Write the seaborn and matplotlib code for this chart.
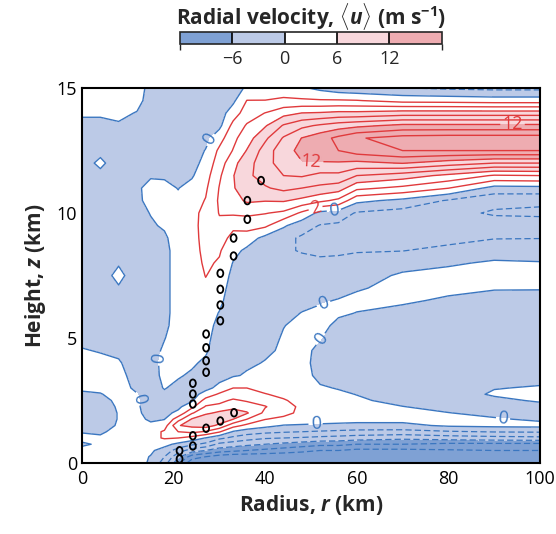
import numpy as np
import seaborn as sns
import matplotlib
matplotlib.use("Agg")
import matplotlib.pyplot as plt
from matplotlib.colors import ListedColormap, BoundaryNorm
from matplotlib.path import Path
from matplotlib.transforms import Affine2D
import matplotlib.colorbar as mcolorbar

sns.set_theme(style="ticks")
plt.rcParams['font.family'] = ['Open Sans', 'DejaVu Sans']
plt.rcParams['mathtext.fontset'] = 'custom'
plt.rcParams['mathtext.rm'] = 'Open Sans:bold'
plt.rcParams['mathtext.it'] = 'Open Sans:bold:italic'
plt.rcParams['mathtext.bf'] = 'Open Sans:bold'

# ---------------- data ----------------
radius_km = [0, 4, 8, 12, 15, 18, 21, 24, 27, 30, 33, 36, 40, 44, 48, 52, 56, 60, 70, 80, 90, 100]
height_km = [0, .25, .5, .75, 1, 1.25, 1.5, 1.75, 2, 2.25, 2.5, 2.75, 3,
             3.5, 4, 4.5, 5, 5.5, 6, 6.5, 7, 7.5, 8, 8.5, 9, 9.5, 10,
             10.5, 11, 11.5, 12, 12.5, 13, 13.5, 14, 14.5, 15]

# radial velocity profiles (m/s) at each radius, bottom to top
u_r000 = [0.3, 0.3, 0.2, -0.1, 0.2, -0.05, -0.3, -0.5, -0.5, -0.4, -0.3, -0.1, 0.1,
          0.3, 0.25, 0.05, -0.2, -0.4, -0.5, -0.6, -0.6, -0.6, -0.6, -0.6, -0.6, -0.6, -0.6,
          -0.6, -0.6, -0.5, -0.4, -0.4, -0.4, -0.2, 0.1, 0.4, 0.5]
u_r004 = [0.3, 0.2, 0.1, 0.1, 0.1, -0.1, -0.4, -0.5, -0.5, -0.4, -0.3, -0.05, 0.2,
          0.3, 0.2, -0.05, -0.3, -0.5, -0.6, -0.6, -0.6, -0.5, -0.6, -0.7, -0.7, -0.7, -0.7,
          -0.7, -0.6, -0.25, 0.2, -0.25, -0.4, -0.2, 0.1, 0.4, 0.5]
u_r008 = [0.5, 0.5, 0.5, 0.4, 0.3, 0.2, 0.1, 0.05, 0.05, 0.1, 0.2, 0.3, 0.4,
          0.3, 0.1, -0.2, -0.4, -0.5, -0.5, -0.4, -0.1, 0.3, -0.1, -0.4, -0.6, -0.7, -0.7,
          -0.7, -0.7, -0.6, -0.5, -0.4, -0.3, -0.1, 0.2, 0.4, 0.5]
u_r012 = [0.5, 0.6, 0.7, 0.7, 0.8, 0.7, 0.6, 0.5, 0.4, 0.3, 0.2, 0.05, -0.2,
          -0.4, -0.5, -0.6, -0.7, -0.7, -0.7, -0.7, -0.6, -0.6, -0.6, -0.6, -0.6, -0.5, -0.4,
          -0.2, -0.15, -0.3, -0.5, -0.6, -0.5, -0.3, -0.05, 0.3, 0.4]
u_r015 = [-0.2, -0.1, 0.3, 0.8, 1.4, 1.1, 0.4, -0.3, -0.8, -1.0, -1.0, -0.9, -0.7,
          -0.5, -0.4, -0.5, -0.6, -0.7, -0.7, -0.7, -0.7, -0.6, -0.5, -0.4, -0.3, -0.15, 0.05,
          0.3, 0.3, -0.1, -0.4, -0.6, -0.7, -0.6, -0.5, -0.4, -0.3]
u_r018 = [-3.0, -2.0, -0.8, 0.6, 2.2, 2.3, 1.0, -0.05, -0.6, -0.8, -0.7, -0.3, 0.1,
          0.3, 0.3, 0.2, -0.05, -0.3, -0.4, -0.4, -0.4, -0.4, -0.4, -0.4, -0.2, 0.15, 0.4,
          0.5, 0.4, -0.2, -0.6, -0.8, -0.9, -0.9, -0.9, -0.9, -0.9]
u_r021 = [-7.5, -5.5, -3.0, -0.5, 2.0, 4.0, 5.9, 3.2, 0.5, -0.5, -0.8, -0.8, -0.5,
          0.2, 0.5, 0.6, 0.6, 0.6, 0.6, 0.6, 0.6, 0.6, 0.6, 0.6, 0.6, 0.6, 0.5,
          0.3, -0.05, -0.4, -0.7, -0.9, -1.0, -1.0, -1.0, -1.0, -1.0]
u_r024 = [-11.5, -9.0, -5.0, -1.6, 1.2, 4.5, 6.5, 6.2, 3.8, 1.5, -0.3, -0.8, -0.9,
          -0.3, 0.3, 0.5, 0.6, 0.7, 0.8, 0.9, 1.0, 1.1, 1.2, 1.3, 1.4, 1.5, 1.5,
          1.2, 0.6, -0.2, -0.8, -1.0, -1.1, -1.1, -1.1, -1.1, -1.2]
u_r027 = [-12.0, -10.0, -6.0, -2.5, -0.1, 3.8, 7.0, 7.8, 5.5, 4.2, 2.8, 0.8, -0.6,
          -1.0, -0.4, 0.3, 0.6, 0.8, 1.0, 1.3, 1.7, 2.05, 2.3, 2.5, 2.6, 2.6, 2.5,
          2.1, 1.7, 1.2, 0.7, 0.1, -0.6, -0.9, -1.0, -1.1, -1.2]
u_r030 = [-12.0, -11.0, -7.0, -4.5, -1.5, 2.2, 5.5, 7.5, 6.5, 4.5, 3.5, 2.3, 0.6,
          -0.8, -1.1, -1.2, -1.0, -0.6, -0.1, 0.5, 1.0, 1.4, 1.8, 2.2, 3.0, 3.6, 4.1,
          4.3, 4.1, 3.7, 3.0, 2.4, 1.2, -0.5, -0.9, -1.0, -1.0]
u_r033 = [-12.0, -11.5, -7.5, -5.0, -2.5, -0.2, 2.8, 6.0, 7.0, 5.4, 4.3, 3.0, 2.0,
          -0.2, -0.8, -1.1, -1.2, -1.3, -1.3, -1.2, -1.0, -0.6, -0.1, 0.6, 1.3, 2.5, 4.3,
          5.2, 5.8, 5.9, 5.4, 4.1, 3.5, 2.6, 1.0, -0.4, -0.9]
u_r036 = [-12.0, -11.5, -8.0, -5.5, -3.2, -1.0, 1.5, 4.0, 6.2, 5.0, 3.8, 2.8, 2.0,
          0.2, -0.3, -0.6, -0.9, -1.0, -1.1, -1.1, -1.0, -0.9, -0.6, -0.4, 1.0, 2.8, 4.4,
          6.3, 7.3, 7.6, 7.2, 6.1, 5.1, 4.2, 3.0, 2.05, 0.3]
u_r040 = [-12.0, -11.5, -8.5, -6.0, -3.8, -1.5, 0.6, 2.05, 3.5, 4.1, 3.3, 2.1, 1.3,
          0.6, 0.1, -0.3, -0.6, -0.9, -1.1, -1.2, -1.3, -1.4, -1.4, -1.2, -0.6, 2.4, 4.1,
          6.1, 7.8, 8.8, 9.2, 8.9, 7.6, 5.8, 4.05, 2.05, 0.7]
u_r044 = [-12.0, -11.5, -9.0, -6.5, -4.0, -1.8, -0.1, 1.5, 2.6, 3.0, 2.2, 1.5, 1.0,
          0.6, 0.4, 0.25, 0.15, -0.05, -0.5, -1.0, -1.3, -1.5, -1.7, -1.9, -1.5, 0.3, 3.6,
          6.2, 8.5, 10.0, 11.0, 11.3, 10.2, 8.2, 5.3, 2.4, 0.8]
u_r048 = [-12.0, -11.5, -9.5, -7.0, -4.2, -2.0, -0.2, 1.0, 1.5, 1.5, 1.3, 1.1, 0.9,
          0.7, 0.6, 0.6, 0.5, 0.4, 0.05, -0.5, -1.0, -1.4, -1.8, -2.05, -2.25, -1.2, 1.6,
          5.5, 8.0, 10.2, 11.9, 12.5, 12.05, 9.5, 6.05, 2.3, 0.3]
u_r052 = [-12.0, -11.5, -10.0, -7.5, -4.5, -2.2, -0.3, 0.8, 1.2, 1.2, 1.0, 0.6, 0.2,
          -0.5, -0.7, -0.5, 0.1, 0.6, 0.4, -0.2, -0.8, -1.3, -1.8, -2.2, -2.4, -2.1, -0.6,
          4.5, 7.5, 9.5, 11.8, 13.5, 13.2, 10.3, 6.2, 2.2, -0.5]
u_r056 = [-12.0, -11.5, -10.0, -7.5, -4.7, -2.4, -0.4, 0.7, 1.0, 0.9, 0.6, 0.3, -0.1,
          -0.9, -1.2, -1.2, -1.0, -0.5, 0.3, 0.1, -0.6, -1.2, -1.7, -2.2, -2.5, -2.3, -1.0,
          3.5, 7.0, 9.5, 11.8, 14.0, 14.5, 11.0, 6.5, 2.2, -1.2]
u_r060 = [-12.0, -11.5, -10.5, -8.0, -5.0, -2.6, -0.5, 0.6, 0.8, 0.6, 0.3, -0.05, -0.5,
          -1.2, -1.4, -1.4, -1.3, -1.0, -0.05, 0.5, -0.2, -0.9, -1.5, -2.1, -2.7, -2.6, -2.2,
          0.5, 4.5, 8.0, 11.5, 15.0, 15.8, 11.5, 6.5, 2.1, -1.5]
u_r070 = [-11.0, -11.0, -10.5, -8.0, -5.5, -2.7, -0.5, 0.6, 0.5, 0.05, -0.6, -1.0, -1.2,
          -1.5, -1.6, -1.6, -1.5, -1.2, -0.6, 0.3, 0.6, 0.3, -0.8, -2.05, -2.8, -3.1, -2.8,
          -0.5, 3.5, 7.0, 12.1, 16.0, 16.8, 12.5, 7.0, 1.3, -1.9]
u_r080 = [-10.8, -10.8, -10.2, -8.5, -5.0, -2.2, 0.3, 0.5, 0.05, -0.6, -1.0, -1.2, -1.3,
          -1.5, -1.6, -1.6, -1.5, -1.3, -1.0, -0.3, 0.5, 0.5, -0.2, -1.5, -2.6, -3.4, -3.5,
          -2.2, 2.05, 5.5, 11.0, 16.0, 17.0, 12.5, 7.0, 1.2, -2.3]
u_r090 = [-10.5, -10.5, -10.0, -8.5, -4.7, -1.9, 0.5, 0.2, -0.5, -1.0, -0.6, 0.3, -0.1,
          -1.0, -1.3, -1.4, -1.4, -1.3, -1.0, -0.5, 0.1, 0.4, 0.2, -0.7, -2.1, -3.2, -4.2,
          -3.5, -0.7, 3.8, 10.0, 16.0, 17.0, 12.5, 7.0, 1.0, -2.5]
u_r100 = [-10.5, -10.5, -10.0, -8.5, -4.5, -1.8, 0.6, -0.3, -1.0, -0.8, 0.3, 0.5, 0.2,
          -0.8, -1.2, -1.3, -1.3, -1.2, -1.0, -0.6, 0.1, 0.3, 0.1, -0.8, -2.05, -3.0, -4.4,
          -3.6, -0.6, 4.0, 10.0, 16.0, 17.0, 12.5, 7.0, 1.0, -2.5]

# radius of maximum wind markers
marker_r = [21.3, 21.3, 24.2, 24.2, 24.2, 24.2, 24.2, 27.1, 27.1, 27.1, 27.1,
            30.2, 30.2, 30.2, 30.2, 33.1, 33.1, 36.1, 36.1, 39.1, 27.1, 30.2, 33.2]
marker_z = [0.16, 0.49, 0.68, 1.09, 2.36, 2.76, 3.19, 3.63, 4.09, 4.61, 5.16,
            5.69, 6.32, 6.95, 7.59, 8.28, 9.0, 9.75, 10.5, 11.3, 1.39, 1.68, 2.01]

cbar_bounds = [-12, -6, 0, 6, 12, 18]
cbar_ticks = [-6, 0, 6, 12]
fill_colors = ['#7fa1d4', '#bccae7', '#ffffff', '#f8d7dc', '#eeacb1']

# ---------------- build field ----------------
columns = [u_r000, u_r004, u_r008, u_r012, u_r015, u_r018, u_r021, u_r024, u_r027,
           u_r030, u_r033, u_r036, u_r040, u_r044, u_r048, u_r052, u_r056, u_r060,
           u_r070, u_r080, u_r090, u_r100]
U = np.column_stack([np.asarray(c, float) for c in columns])
R, Z = np.meshgrid(np.asarray(radius_km, float), np.asarray(height_km, float))

fig = plt.figure(figsize=(5.56, 5.34), dpi=100)
ax = fig.add_axes([0.1475, 0.133, 0.8237, 0.702])

fill_levels = [-60] + cbar_bounds[1:-1] + [60]
ax.contourf(R, Z, U, levels=fill_levels, colors=fill_colors)

red = '#e03a3c'
blue = '#3a76c0'
neg_levels = [-12, -10, -8, -6, -4, -2]
ax.contour(R, Z, U, levels=neg_levels, colors=blue, linewidths=0.9,
           linestyles=[(0, (5, 2.5))])
cs0 = ax.contour(R, Z, U, levels=[0], colors=blue, linewidths=1.0)
cs2 = ax.contour(R, Z, U, levels=[2], colors=red, linewidths=1.0)
cs12 = ax.contour(R, Z, U, levels=[12], colors=red, linewidths=1.0)
ax.contour(R, Z, U, levels=[4, 6, 8, 10, 14, 16], colors=red, linewidths=1.0)

ax.clabel(cs0, fmt='%d', fontsize=13, inline=True, inline_spacing=2,
          manual=[(28.6, 12.9), (55, 10.1), (52.5, 6.5), (52.5, 4.9), (16, 4.2),
                  (14, 2.65), (51, 1.56), (92, 1.9)])
ax.clabel(cs2, fmt='%d', fontsize=13, inline=True, inline_spacing=2,
          manual=[(51, 10.2)])
ax.clabel(cs12, fmt='%d', fontsize=13, inline=True, inline_spacing=2,
          manual=[(50, 11.85), (94, 13.7)])

ell = Path.unit_circle().transformed(Affine2D().scale(0.78, 1.0))
sns.scatterplot(x=marker_r, y=marker_z, marker=ell, s=30, color='black',
                facecolor='none', edgecolor='black', linewidth=1.3, ax=ax,
                zorder=6, legend=False)

ax.set_xlim(0, 100)
ax.set_ylim(0, 15)
ax.set_xticks(np.arange(0, 101, 20))
ax.set_xticks(np.arange(0, 101, 5), minor=True)
ax.set_yticks([0, 5, 10, 15])
ax.set_yticks(np.arange(0, 16, 1), minor=True)
ax.tick_params(which='both', direction='in', top=True, right=True, length=6,
               width=1.1, color='black', labelsize=13, labelcolor='black')
ax.tick_params(axis='x', pad=5)
for s in ax.spines.values():
    s.set_linewidth(1.5)
    s.set_color('black')
ax.set_xlabel(r'Radius, $r$ (km)', fontsize=15, fontweight='bold', labelpad=4)
ax.set_ylabel(r'Height, $z$ (km)', fontsize=15, fontweight='bold', labelpad=6)

# colorbar
cax = fig.add_axes([0.3237, 0.9176, 0.471, 0.0225])
cmap = ListedColormap(fill_colors)
norm = BoundaryNorm(cbar_bounds, cmap.N)
cb = mcolorbar.ColorbarBase(cax, cmap=cmap, norm=norm, orientation='horizontal',
                            ticks=cbar_ticks, drawedges=True)
cb.outline.set_linewidth(1.2)
cb.dividers.set_linewidth(1.2)
cb.dividers.set_color('black')
cax.tick_params(length=0, labelsize=13, pad=4)
cax.set_title(r'Radial velocity, $\langle u\rangle$ (m s$^{-1}$)', fontsize=15,
              fontweight='bold', pad=5)

fig.savefig('out.png', dpi=100)
